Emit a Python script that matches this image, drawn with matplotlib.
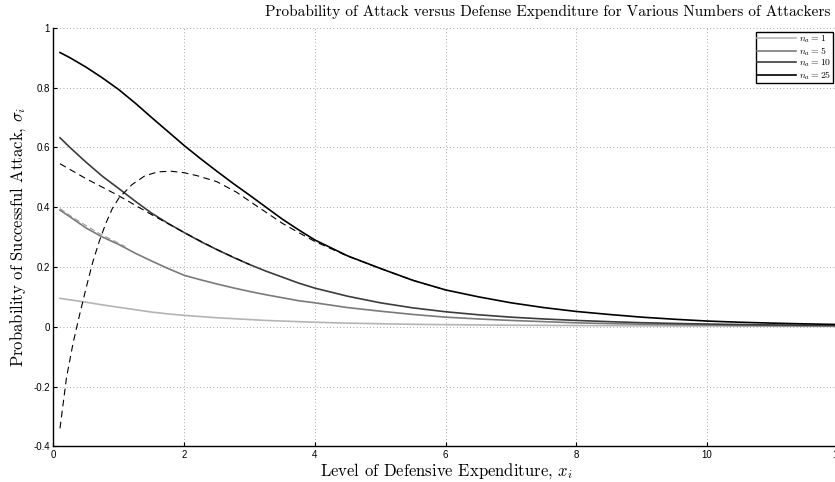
import matplotlib.pyplot as plt

plt.rcParams['mathtext.fontset'] = 'cm'
plt.rcParams['axes.unicode_minus'] = False

# defensive expenditure sample points
x = [0.1, 0.25, 0.5, 0.75, 1.0, 1.25, 1.5, 1.75, 2.0, 2.25, 2.5, 2.75, 3.0,
     3.25, 3.5, 3.75, 4.0, 4.5, 5.0, 5.5, 6.0, 6.5, 7.0, 7.5, 8.0, 8.5, 9.0,
     9.5, 10.0, 10.5, 11.0, 11.5, 12.0, 12.5]

# probability of successful attack for each number of attackers
na1 = [0.095, 0.090, 0.082, 0.073, 0.065, 0.057, 0.049, 0.043, 0.038, 0.034,
       0.030, 0.027, 0.024, 0.021, 0.019, 0.017, 0.015, 0.012, 0.010, 0.008,
       0.007, 0.006, 0.005, 0.0045, 0.004, 0.0035, 0.003, 0.0027, 0.0024,
       0.002, 0.0018, 0.0016, 0.0014, 0.0012]
na5 = [0.39, 0.368, 0.33, 0.30, 0.275, 0.246, 0.22, 0.195, 0.172, 0.157,
       0.143, 0.13, 0.118, 0.107, 0.097, 0.087, 0.08, 0.064, 0.052, 0.041,
       0.032, 0.026, 0.021, 0.017, 0.013, 0.0105, 0.0085, 0.007, 0.0057,
       0.0047, 0.0039, 0.0032, 0.0027, 0.0022]
na10 = [0.632, 0.60, 0.55, 0.503, 0.462, 0.42, 0.38, 0.346, 0.315, 0.285,
        0.258, 0.232, 0.208, 0.186, 0.166, 0.146, 0.129, 0.102, 0.080, 0.063,
        0.050, 0.040, 0.032, 0.026, 0.021, 0.017, 0.0135, 0.011, 0.009,
        0.0073, 0.006, 0.0049, 0.004, 0.0033]
na25 = [0.917, 0.90, 0.868, 0.832, 0.793, 0.748, 0.70, 0.653, 0.606, 0.562,
        0.52, 0.479, 0.44, 0.40, 0.36, 0.324, 0.29, 0.237, 0.195, 0.155,
        0.123, 0.10, 0.08, 0.064, 0.051, 0.041, 0.032, 0.025, 0.019, 0.015,
        0.012, 0.0095, 0.0075, 0.006]
labels = [r'$n_a = 1$', r'$n_a = 5$', r'$n_a = 10$', r'$n_a = 25$']
colors = ['#b4b4b4', '#7a7a7a', '#3c3c3c', '#000000']

# approximations (dashed)
hump_x = [0.1, 0.2, 0.3, 0.4, 0.5, 0.6, 0.7, 0.8, 0.9, 1.0, 1.2, 1.4, 1.6,
          1.8, 2.0, 2.2, 2.5, 2.8, 3.0, 3.25, 3.5, 3.75, 4.0, 4.5, 5.0, 5.5, 6.0]
hump_y = [-0.34, -0.17, -0.055, 0.04, 0.13, 0.215, 0.285, 0.345, 0.395, 0.43,
          0.475, 0.505, 0.518, 0.52, 0.515, 0.505, 0.485, 0.45, 0.42, 0.383,
          0.346, 0.315, 0.285, 0.236, 0.195, 0.155, 0.123]
lin_x = [0.1, 0.5, 1.0, 1.5, 2.0, 2.5, 3.0]
lin_y = [0.545, 0.495, 0.438, 0.375, 0.315, 0.258, 0.208]
lin5_x = [0.1, 0.3, 0.5, 0.7, 0.9, 1.1]
lin5_y = [0.395, 0.365, 0.338, 0.312, 0.29, 0.268]

fig = plt.figure(figsize=(8.35, 4.82), dpi=100)
ax = fig.add_axes([0.064, 0.074, 0.9395, 0.8685])

lines = []
for ys, lab, c in zip([na1, na5, na10, na25], labels, colors):
    ln, = ax.plot(x, ys, color=c, lw=1.2, label=lab)
    lines.append(ln)

ax.plot(lin5_x, lin5_y, color='#9a9a9a', lw=0.8, ls=(0, (5, 3)))
ax.plot(lin_x, lin_y, color='black', lw=0.8, ls=(0, (6, 4)))
ax.plot(hump_x, hump_y, color='black', lw=0.8, ls=(0, (6, 4)))

ax.set_xlim(0, 12)
ax.set_ylim(-0.4, 1)
ax.set_xticks([0, 2, 4, 6, 8, 10, 12])
ax.set_xticklabels(['0', '2', '4', '6', '8', '10', '12'])
ax.set_yticks([-0.4, -0.2, 0, 0.2, 0.4, 0.6, 0.8, 1])
ax.set_yticklabels(['-0.4', '-0.2', '0', '0.2', '0.4', '0.6', '0.8', '1'])
ax.tick_params(direction='in', length=3, width=0.8, labelsize=7, pad=2.5)
for t in ax.get_xticklabels() + ax.get_yticklabels():
    t.set_fontfamily('Liberation Sans')

ax.grid(True, color='#8c8c8c', lw=0.6, ls=(0, (1, 3)))
ax.spines['top'].set_visible(False)
ax.spines['right'].set_visible(False)
ax.spines['left'].set_linewidth(1.0)
ax.spines['bottom'].set_linewidth(1.0)

fig.text(0.535, 0.022, r'Level of Defensive Expenditure, $x_i$',
         ha='center', va='center', fontfamily='cmr10', fontsize=12)
fig.text(0.021, 0.508, r'Probability of Successful Attack, $\sigma_i$',
         ha='center', va='center', rotation=90, fontfamily='cmr10', fontsize=12)
fig.text(0.994, 0.975,
         'Probability of Attack versus Defense Expenditure for Various Numbers of Attackers',
         ha='right', va='center', fontfamily='cmr10', fontsize=11)

leg = ax.legend(handles=lines, loc='upper right', bbox_to_anchor=(0.9976, 0.934),
                bbox_transform=fig.transFigure, fontsize=7, frameon=True,
                fancybox=False, framealpha=1, edgecolor='black',
                handlelength=4.0, handletextpad=0.3, labelspacing=0.0,
                borderpad=0.15, borderaxespad=0)
leg.get_frame().set_linewidth(1.0)
for t in leg.get_texts():
    t.set_fontfamily('cmr10')

fig.savefig('out.png', dpi=100)
